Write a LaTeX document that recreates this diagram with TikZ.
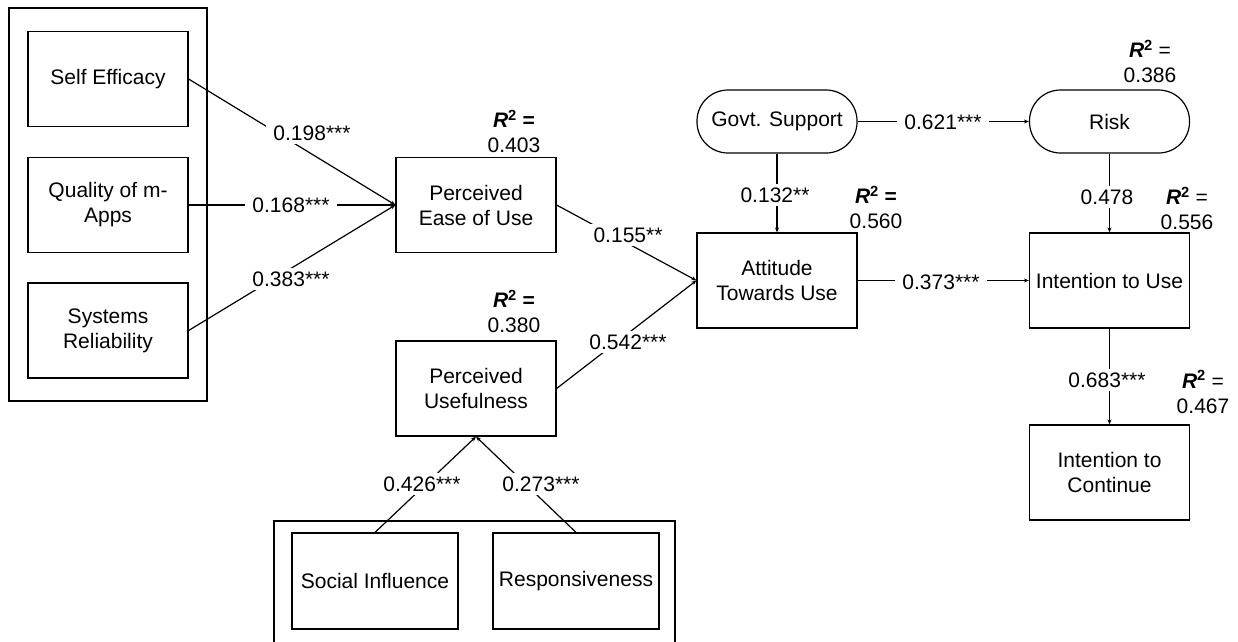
\documentclass[tikz,border=0pt]{standalone}
\usepackage{fontspec}
\setmainfont{Liberation Sans}
\usetikzlibrary{arrows.meta}
\tikzset{
  box/.style={draw, minimum width=160pt, minimum height=95pt, align=center, inner sep=0pt},
  pill/.style={draw, minimum width=160pt, minimum height=63pt, rounded corners=31pt, align=center, inner sep=0pt},
  arr/.style={-{Stealth[length=5pt,width=4pt]}},
  lab/.style={fill=white, inner xsep=7pt, inner ysep=4pt},
  rsq/.style={align=center, inner sep=0pt},
}
\newcommand{\rsqb}[1]{\textbf{\textit{R}\textsuperscript{2} =}\\#1}
\newcommand{\rsqn}[1]{\textbf{\textit{R}\textsuperscript{2}} =\\#1}
\begin{document}
\begin{tikzpicture}[x=1pt,y=-1pt, font=\fontsize{21}{25}\selectfont, line width=1.2pt]
\useasboundingbox (0,0) rectangle (1238,641);
% containers
\node[draw, minimum width=198pt, minimum height=393pt, inner sep=0pt] (lc) at (108,204.5) {};
\draw (274,645) -- (274,521) -- (675,521) -- (675,645);
% boxes
\node[box] (se) at (108,79) {Self Efficacy};
\node[box] (qm) at (108,205) {Quality of m-\\Apps};
\node[box] (sr) at (108,330.5) {Systems\\Reliability};
\node[box] (peu) at (476,205) {Perceived\\Ease of Use};
\node[box] (pu) at (476,388.5) {Perceived\\Usefulness};
\node[box] (atu) at (777,280.5) {Attitude\\Towards Use};
\node[pill] (gs) at (777,121.5) {Govt. Support};
\node[pill] (risk) at (1109.5,121.5) {Risk};
\node[box] (iu) at (1109.5,280.5) {Intention to Use};
\node[box] (itc) at (1109.5,472.5) {Intention to\\Continue};
\node[box, minimum width=166pt, minimum height=96pt] (si) at (375,581) {Social Influence};
\node[box, minimum width=166pt, minimum height=96pt] (rs) at (576,581) {Responsiveness};
% connectors
\draw[arr] (se.east) -- (peu.west);
\draw[arr] (qm.east) -- (peu.west);
\draw[arr] (sr.east) -- (peu.west);
\draw[arr] (peu.east) -- (atu.west);
\draw[arr] (pu.east) -- (atu.west);
\draw[arr] (si.north) -- (pu.south);
\draw[arr] (rs.north) -- (pu.south);
\draw[arr] (gs.south) -- (atu.north);
\draw[arr] (gs.east) -- (risk.west);
\draw[arr] (risk.south) -- (iu.north);
\draw[arr] (atu.east) -- (iu.west);
\draw[arr] (iu.south) -- (itc.north);
% path coefficients
\node[lab] (l1) at (312,133) {0.198***};
\node[lab] (l2) at (291,205) {0.168***};
\node[lab] (l3) at (291,279) {0.383***};
\node[lab] (l4) at (628,235) {0.155**};
\node[lab] (l5) at (628,342) {0.542***};
\node[lab] (l6) at (422,484) {0.426***};
\node[lab] (l7) at (541,484) {0.273***};
\node[lab] (l8) at (775,195) {0.132**};
\node[lab] (l9) at (943,122) {0.621***};
\node[lab] (l10) at (941,282) {0.373***};
\node[lab] (l11) at (1107,197) {0.478};
\node[lab] (l12) at (1107,380) {0.683***};
% R squared
\node[rsq] (r1) at (514,131.5) {\rsqb{0.403}};
\node[rsq] (r2) at (514,311.5) {\rsqb{0.380}};
\node[rsq] (r3) at (876,207.5) {\rsqb{0.560}};
\node[rsq] (r4) at (1150,61.5) {\rsqn{0.386}};
\node[rsq] (r5) at (1187,208.5) {\rsqn{0.556}};
\node[rsq] (r6) at (1203,392) {\rsqn{0.467}};
\end{tikzpicture}
\end{document}
